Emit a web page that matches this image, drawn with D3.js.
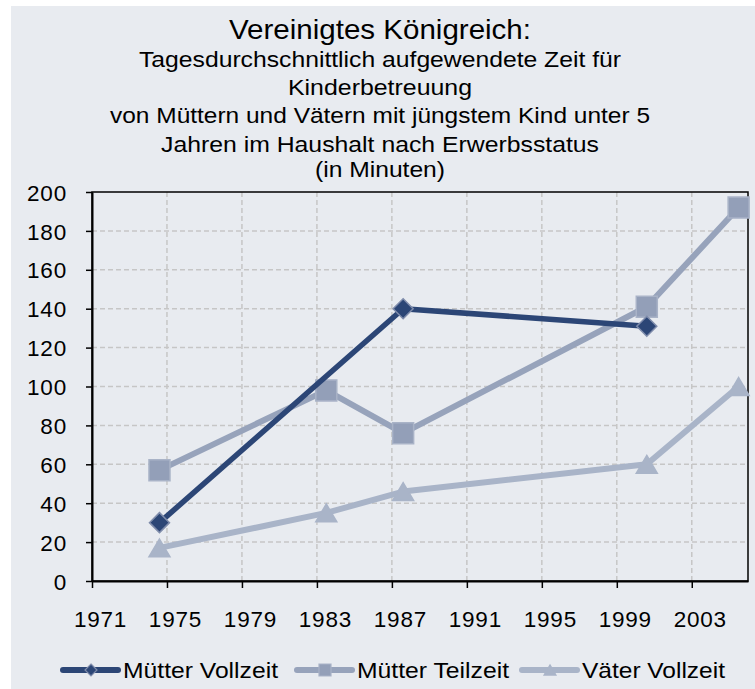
<!DOCTYPE html>
<html>
<head>
<meta charset="utf-8">
<script src="https://cdn.jsdelivr.net/npm/d3@7"></script>
<style>
  body { margin: 0; background: #ffffff; }
  svg text { font-family: "Liberation Sans", Arial, sans-serif; fill: #000; }
</style>
</head>
<body>
<div id="chart"></div>
<script>
'use strict';

// data
const years = [1974.6, 1983.5, 1987.6, 2000.6, 2005.5];
const muetterVollzeit = [30, null, 140, 131, null];
const muetterTeilzeit = [57, 98, 76, 141, 192];
const vaeterVollzeit = [17, 35, 46, 60, 100];
const seriesNames = ['Mütter Vollzeit', 'Mütter Teilzeit', 'Väter Vollzeit'];
const xTicks = [1971, 1975, 1979, 1983, 1987, 1991, 1995, 1999, 2003];
const yTicks = [0, 20, 40, 60, 80, 100, 120, 140, 160, 180, 200];
const titleLines = [
  'Tagesdurchschnittlich aufgewendete Zeit für',
  'Kinderbetreuung',
  'von Müttern und Vätern mit jüngstem Kind unter 5',
  'Jahren im Haushalt nach Erwerbsstatus',
  '(in Minuten)'
];

const width = 755;
const height = 689;
const plot = { left: 92, right: 748, top: 192, bottom: 581 };

const svg = d3.select('#chart')
  .append('svg')
    .attr('width', width)
    .attr('height', height);

// chart area background
svg.append('rect')
  .attr('x', 11).attr('y', 6)
  .attr('width', width - 11).attr('height', height - 6)
  .attr('fill', '#e8ebf0');

// titles
svg.append('text')
  .attr('x', 380).attr('y', 39)
  .attr('text-anchor', 'middle')
  .attr('font-size', 28)
  .attr('textLength', 302)
  .attr('lengthAdjust', 'spacingAndGlyphs')
  .text('Vereinigtes Königreich:');

const subWidths = [482, 184, 540, 438, 130];
const subBase = [67, 95, 123, 152, 177];
titleLines.forEach((t, i) => {
  svg.append('text')
    .attr('x', 380).attr('y', subBase[i])
    .attr('text-anchor', 'middle')
    .attr('font-size', 21.5)
    .attr('textLength', subWidths[i])
    .attr('lengthAdjust', 'spacingAndGlyphs')
    .text(t);
});

const x = d3.scaleLinear()
  .domain([1971, 2006])
  .range([plot.left, plot.right]);

const y = d3.scaleLinear()
  .domain([0, 200])
  .range([plot.bottom, plot.top]);

// grid
const grid = svg.append('g')
  .attr('stroke', '#c6c6c6')
  .attr('stroke-width', 1.5)
  .attr('stroke-dasharray', '5,3');
grid.selectAll('line.h')
  .data(yTicks.filter(d => d > 0 && d < 200))
  .join('line')
    .attr('x1', plot.left).attr('x2', plot.right)
    .attr('y1', d => y(d)).attr('y2', d => y(d));
grid.selectAll('line.v')
  .data(xTicks.filter(d => d > 1971))
  .enter().append('line')
    .attr('y1', plot.top).attr('y2', plot.bottom)
    .attr('x1', d => x(d)).attr('x2', d => x(d));

// frame
svg.append('rect')
  .attr('x', plot.left).attr('y', plot.top)
  .attr('width', plot.right - plot.left)
  .attr('height', plot.bottom - plot.top)
  .attr('fill', 'none')
  .attr('stroke', '#000')
  .attr('stroke-width', 1.5);

// axes
const yAxis = svg.append('g')
  .attr('transform', `translate(${plot.left},0)`)
  .call(d3.axisLeft(y).tickValues(yTicks).tickSize(6).tickSizeOuter(0));
yAxis.select('.domain').attr('stroke-width', 2);
yAxis.selectAll('.tick line').attr('stroke-width', 1.5);
yAxis.selectAll('.tick text')
  .attr('font-size', 22.5)
  .attr('letter-spacing', 0.8)
  .attr('dy', '0.36em')
  .attr('x', -25)
  .style('font-family', '"Liberation Sans", Arial, sans-serif');

const xAxis = svg.append('g')
  .attr('transform', `translate(0,${plot.bottom})`)
  .call(d3.axisBottom(x).tickValues(xTicks).tickFormat(d3.format('d')).tickSize(7).tickSizeOuter(0));
xAxis.select('.domain').attr('stroke-width', 2);
xAxis.selectAll('.tick line').attr('stroke-width', 1.5);
xAxis.selectAll('.tick text')
  .attr('font-size', 22.5)
  .attr('letter-spacing', 0.8)
  .attr('x', 8)
  .attr('y', 46)
  .attr('dy', 0)
  .style('font-family', '"Liberation Sans", Arial, sans-serif');

// series
const seriesData = [
  { name: seriesNames[0], values: muetterVollzeit, color: '#2c4676', marker: 'diamond', fill: '#2c4676', edge: '#7f8cab', lw: 5.5 },
  { name: seriesNames[1], values: muetterTeilzeit, color: '#97a3bb', marker: 'square', fill: '#939fb8', edge: '#a9b3c7', lw: 6 },
  { name: seriesNames[2], values: vaeterVollzeit, color: '#a9b4c8', marker: 'triangle', fill: '#a9b4c8', edge: '#a9b4c8', lw: 6 }
];

/** builds a path for a marker of the given kind around 0,0 */
function markerPath (kind, s) {
  if (kind === 'diamond') {
    return `M0,${-s}L${s},0L0,${s}L${-s},0Z`;
  }
  if (kind === 'square') {
    return `M${-s},${-s}H${s}V${s}H${-s}Z`;
  }
  const h = s * 0.85;
  return `M0,${-h}L${s},${h}L${-s},${h}Z`;
}

const line = d3.line()
  .x(d => x(d.year))
  .y(d => y(d.v));

// draw from back to front: Väter, Teilzeit, Vollzeit
[2, 1, 0].forEach(i => {
  const s = seriesData[i];
  const pts = years.map((yr, j) => ({ year: yr, v: s.values[j] })).filter(d => d.v !== null);
  svg.append('path')
    .datum(pts)
    .attr('d', line)
    .attr('fill', 'none')
    .attr('stroke', s.color)
    .attr('stroke-width', s.lw)
    .attr('stroke-linejoin', 'round');
  const size = s.marker === 'diamond' ? 10 : 10.5;
  svg.selectAll(null)
    .data(pts)
    .join('path')
      .attr('transform', d => `translate(${x(d.year)},${y(d.v)})`)
      .attr('d', markerPath(s.marker, size))
      .attr('fill', s.fill)
      .attr('stroke', s.edge)
      .attr('stroke-width', 1.5);
});

// legend
const legendX = [63, 297, 522];
const legendTextW = [155, 152, 143];
const legend = svg.append('g');
seriesData.forEach((s, i) => {
  const g = legend.append('g').attr('transform', `translate(${legendX[i]},670)`);
  g.append('line')
    .attr('x1', 0).attr('x2', 55)
    .attr('stroke', s.color)
    .attr('stroke-width', 6)
    .attr('stroke-linecap', 'round');
  g.append('path')
    .attr('transform', 'translate(28,0)')
    .attr('d', markerPath(s.marker, 6))
    .attr('fill', s.fill)
    .attr('stroke', s.edge)
    .attr('stroke-width', 1.2);
  g.append('text')
    .attr('x', 60).attr('y', 8)
    .attr('font-size', 22.5)
    .attr('textLength', legendTextW[i])
    .attr('lengthAdjust', 'spacingAndGlyphs')
    .text(s.name);
});
</script>
</body>
</html>
